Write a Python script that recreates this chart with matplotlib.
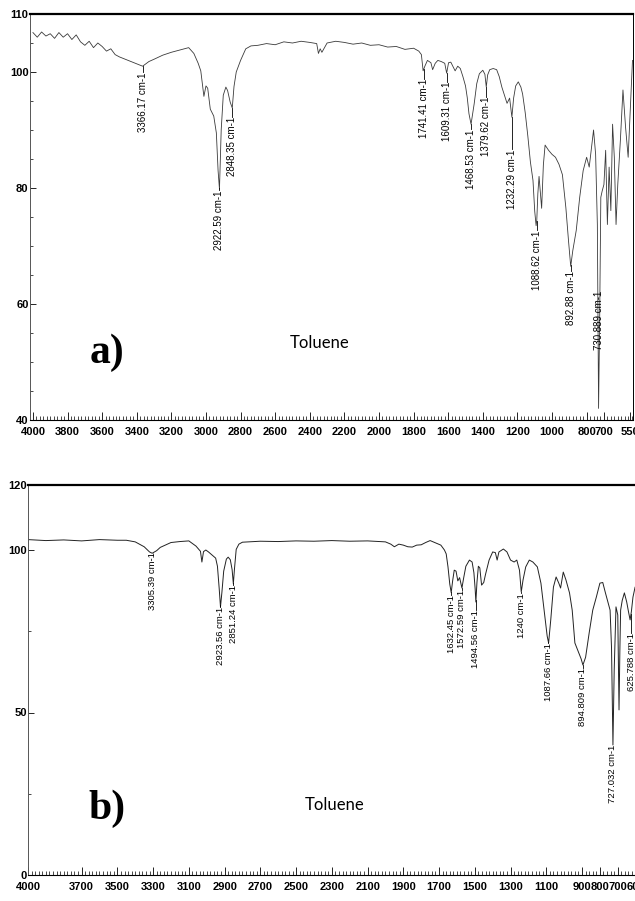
import numpy as np
import matplotlib
matplotlib.use('Agg')
import matplotlib.pyplot as plt
from matplotlib.ticker import MultipleLocator, FixedLocator

# panel a) spectrum (wavenumber cm-1, %T)
top_wn = [4000, 3975, 3950, 3925, 3900, 3875, 3850, 3825, 3800, 3775, 3750, 3725,
          3700, 3675, 3650, 3625, 3600, 3575, 3550, 3525, 3500, 3450, 3400, 3366,
          3330, 3300, 3250, 3200, 3150, 3100, 3070, 3045, 3030, 3012, 3000, 2990,
          2975, 2955, 2940, 2930, 2922, 2912, 2900, 2885, 2875, 2860, 2848, 2838,
          2825, 2800, 2770, 2740, 2700, 2650, 2600, 2550, 2500, 2450, 2400, 2360,
          2350, 2340, 2330, 2300, 2250, 2200, 2150, 2100, 2050, 2000, 1950, 1900,
          1850, 1800, 1770, 1755, 1745, 1735, 1720, 1700, 1690, 1675, 1660, 1640,
          1620, 1609, 1598, 1585, 1570, 1560, 1545, 1530, 1515, 1500, 1490, 1480,
          1468, 1458, 1450, 1435, 1420, 1400, 1388, 1380, 1372, 1360, 1340, 1320,
          1305, 1290, 1275, 1260, 1245, 1232, 1222, 1210, 1195, 1180, 1170, 1155,
          1140, 1125, 1110, 1100, 1092, 1088, 1082, 1075, 1068, 1060, 1050, 1040,
          1020, 1000, 980, 960, 940, 920, 905, 892, 880, 860, 840, 820,
          800, 785, 770, 760, 748, 738, 731, 725, 718, 710, 700, 690,
          680, 670, 660, 650, 640, 630, 620, 605, 590, 575, 560, 545, 535]
top_tr = [106.8, 106.0, 106.9, 106.2, 106.6, 105.8, 106.8, 106.0, 106.6, 105.6, 106.4, 105.2,
          104.6, 105.3, 104.2, 105.0, 104.4, 103.6, 104.0, 103.0, 102.6, 102.0, 101.4, 101.0,
          101.8, 102.2, 102.9, 103.4, 103.8, 104.2, 103.2, 101.5, 100.2, 95.8, 97.6, 97.2,
          93.6, 92.4, 89.5, 83.0, 79.8, 90.0, 96.0, 97.4, 96.8, 94.8, 93.8, 97.5,
          100.0, 102.0, 104.0, 104.5, 104.6, 104.9, 104.7, 105.2, 105.0, 105.3, 105.1, 104.9,
          103.2, 104.0, 103.4, 105.0, 105.3, 105.1, 104.8, 105.0, 104.6, 104.7, 104.3, 104.4,
          103.9, 104.1, 103.6, 103.0, 100.2, 101.0, 102.0, 101.6, 100.4, 101.5, 102.0, 101.8,
          101.5, 99.8, 101.6, 101.7, 100.8, 100.2, 101.0, 100.6, 99.2, 97.6, 95.6, 92.8,
          91.0, 93.0, 94.5, 98.0, 99.7, 100.3, 99.6, 97.4, 99.5, 100.4, 100.6, 100.4,
          99.2, 97.4, 96.0, 94.6, 95.5, 92.2, 95.5, 97.6, 98.3, 97.4, 96.2, 93.0,
          89.0, 84.5, 81.3, 76.0, 73.5, 74.5, 79.0, 82.0, 79.5, 76.5, 84.0, 87.4,
          86.5, 85.8, 85.3, 84.1, 82.3, 76.6, 71.0, 66.5, 69.2, 72.7, 78.4, 83.0,
          85.3, 83.6, 87.5, 90.0, 85.8, 73.7, 42.0, 56.4, 78.4, 79.5, 80.6, 86.5,
          73.7, 83.6, 76.1, 91.0, 85.3, 73.7, 80.6, 88.2, 96.9, 90.5, 85.3, 95.2, 102.0]

# panel b) spectrum
bot_wn = [4000, 3900, 3800, 3700, 3600, 3500, 3450, 3400, 3350, 3320, 3305, 3280,
          3260, 3200, 3150, 3100, 3060, 3035, 3027, 3018, 3005, 2990, 2965, 2950,
          2940, 2930, 2923, 2915, 2905, 2890, 2880, 2868, 2858, 2851, 2845, 2835,
          2820, 2800, 2700, 2600, 2500, 2400, 2300, 2200, 2100, 2000, 1970, 1950,
          1925, 1900, 1875, 1850, 1825, 1800, 1775, 1750, 1720, 1690, 1670, 1660,
          1650, 1640, 1632, 1624, 1615, 1605, 1595, 1585, 1572, 1562, 1550, 1530,
          1515, 1505, 1498, 1494, 1488, 1480, 1472, 1462, 1450, 1440, 1420, 1400,
          1385, 1375, 1365, 1340, 1320, 1300, 1280, 1265, 1250, 1240, 1230, 1215,
          1195, 1175, 1150, 1130, 1110, 1095, 1087, 1075, 1060, 1045, 1030, 1020,
          1005, 990, 970, 955, 940, 920, 905, 895, 880, 860, 840, 820,
          800, 784, 770, 755, 743, 735, 727, 720, 710, 700, 693, 688,
          684, 675, 663, 650, 640, 631, 624, 615, 603, 598]
bot_tr = [103.2, 102.9, 103.1, 102.8, 103.2, 103.0, 103.0, 102.5, 101.0, 99.4, 99.0, 99.8,
          100.8, 102.3, 102.6, 102.8, 101.2, 99.6, 96.3, 99.5, 100.0, 99.4, 98.2, 97.5,
          95.0, 88.0, 82.5, 87.0, 93.5, 97.2, 97.8, 97.0, 94.0, 89.6, 94.0, 100.2,
          101.8, 102.4, 102.7, 102.6, 102.8, 102.7, 102.9, 102.7, 102.8, 102.5, 101.8, 101.0,
          101.8, 101.5, 101.0, 100.9, 101.5, 101.6, 102.3, 102.9, 102.2, 101.5, 100.0, 98.8,
          94.8, 89.5, 86.9, 90.5, 93.8, 93.5, 90.5, 91.5, 88.3, 91.5, 95.0, 96.9,
          96.3, 93.0, 88.0, 84.0, 90.0, 95.0, 94.5, 89.2, 90.0, 92.5, 96.9, 99.4,
          99.2, 96.9, 99.4, 100.3, 99.4, 96.9, 96.3, 96.9, 93.8, 87.1, 90.8, 94.8,
          96.9, 96.3, 94.8, 89.8, 80.6, 73.5, 71.4, 78.5, 88.6, 91.7, 89.8, 88.3,
          93.2, 90.8, 86.8, 81.5, 71.4, 68.6, 66.5, 64.6, 67.0, 74.5, 81.5, 85.5,
          89.8, 90.0, 87.0, 84.0, 81.5, 70.0, 40.0, 63.0, 82.5, 80.0, 50.8, 70.0,
          81.5, 84.5, 86.8, 84.0, 81.0, 78.5, 81.0, 85.5, 88.6, 87.5]

# peak labels
top_peaks = ['3366.17', '2922.59', '2848.35', '1741.41', '1609.31', '1468.53',
             '1379.62', '1232.29', '1088.62', '892.88', '730.889']
top_label_y = [100.0, 79.6, 92.2, 98.8, 98.3, 90.1, 95.7, 86.7, 72.7, 65.7, 62.3]
bot_peaks = ['3305.39', '2923.56', '2851.24', '1632.45', '1572.59', '1494.56',
             '1240', '1087.66', '894.809', '727.032', '625.788']
bot_label_y = [99.4, 82.5, 89.2, 86.2, 87.7, 81.5, 86.8, 71.4, 63.7, 40.0, 74.5]

top_xticks = [4000, 3800, 3600, 3400, 3200, 3000, 2800, 2600, 2400, 2200, 2000,
              1800, 1600, 1400, 1200, 1000, 800, 700, 550]
bot_xticks = [4000, 3700, 3500, 3300, 3100, 2900, 2700, 2500, 2300, 2100, 1900,
              1700, 1500, 1300, 1100, 900, 800, 700, 600]
top_yticks = [40, 60, 80, 100, 110]
bot_yticks = [0, 50, 100, 120]

plt.rcParams['font.family'] = ['Liberation Sans', 'DejaVu Sans']

fig = plt.figure(figsize=(6.35, 9.01), dpi=100)
ax1 = fig.add_axes([30 / 635, 1 - 420 / 901, 603 / 635, 406 / 901])
ax2 = fig.add_axes([28 / 635, 1 - 875 / 901, 608 / 635, 390 / 901])


def draw_panel(ax, wn, tr, peaks, label_y, color, lw, fs):
    ax.plot(wn, tr, color=color, lw=lw)
    wn_a = np.array(wn)[::-1]
    tr_a = np.array(tr)[::-1]
    for lab, ytop in zip(peaks, label_y):
        p = float(lab)
        tmin = np.interp(p, wn_a, tr_a)
        if tmin > ytop:
            ax.plot([p, p], [ytop, tmin], color='black', lw=0.6)
        ax.text(p, ytop, lab + ' cm-1', rotation=90, ha='center', va='top',
                fontsize=fs, color='black')


def style_axes(ax, xticks, yticks, yminor):
    ax.xaxis.set_major_locator(FixedLocator(xticks))
    ax.set_xticklabels([str(t) for t in xticks])
    ax.xaxis.set_minor_locator(MultipleLocator(20))
    ax.yaxis.set_major_locator(FixedLocator(yticks))
    ax.set_yticklabels([str(t) for t in yticks])
    ax.yaxis.set_minor_locator(FixedLocator(yminor))
    ax.tick_params(axis='x', which='major', direction='in', length=6, width=0.6, pad=5)
    ax.tick_params(axis='x', which='minor', direction='in', length=3, width=0.5)
    ax.tick_params(axis='y', which='major', direction='in', length=4, width=0.6, pad=1)
    ax.tick_params(axis='y', which='minor', direction='in', length=2, width=0.5)
    for lab in ax.get_xticklabels() + ax.get_yticklabels():
        lab.set_fontweight('bold')
        lab.set_fontsize(8)
    ax.spines['top'].set_linewidth(1.6)
    ax.spines['left'].set_linewidth(0.7)
    ax.spines['left'].set_color('#555555')
    ax.spines['bottom'].set_linewidth(0.8)
    ax.spines['right'].set_linewidth(0.7)


draw_panel(ax1, top_wn, top_tr, top_peaks, top_label_y, '#3a3a3a', 0.6, 7)
ax1.set_xlim(4017, 532)
ax1.set_ylim(40, 110)
style_axes(ax1, top_xticks, top_yticks, [45, 50, 55, 65, 70, 75, 85, 90, 95, 105])

draw_panel(ax2, bot_wn, bot_tr, bot_peaks, bot_label_y, '#222222', 0.7, 6.8)
ax2.set_xlim(4000, 598)
ax2.set_ylim(0, 120)
style_axes(ax2, bot_xticks, bot_yticks, [25, 75])
ax2.spines['right'].set_visible(False)

ax1.text(0.128, 0.165, 'a)', transform=ax1.transAxes, ha='center', va='center',
         fontsize=30, fontweight='bold', family='Liberation Serif')
ax1.text(0.48, 0.19, 'Toluene', transform=ax1.transAxes, ha='center', va='center',
         fontsize=12, family='Lato')
ax2.text(0.13, 0.17, 'b)', transform=ax2.transAxes, ha='center', va='center',
         fontsize=30, fontweight='bold', family='Liberation Serif')
ax2.text(0.505, 0.18, 'Toluene', transform=ax2.transAxes, ha='center', va='center',
         fontsize=12, family='Lato')

fig.savefig('out.png', dpi=100)
